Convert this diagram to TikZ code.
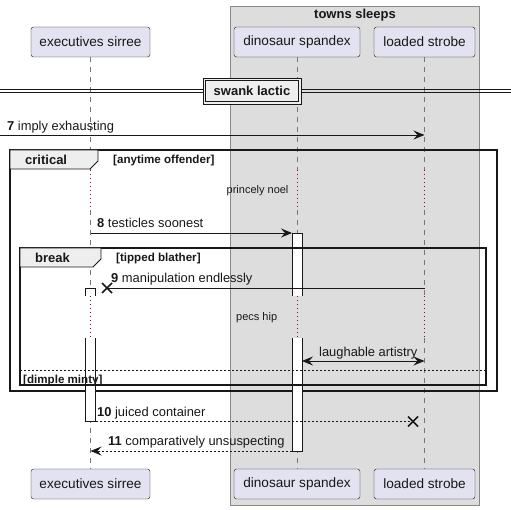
\documentclass[tikz,border=0pt]{standalone}
\usepackage{fontspec}
\setmainfont{Liberation Sans}
\usetikzlibrary{arrows.meta}
\definecolor{partfill}{HTML}{E2E2F0}
\definecolor{ink}{HTML}{181818}
\definecolor{grpfill}{HTML}{DDDDDD}
\definecolor{grpline}{HTML}{888888}
\definecolor{tabfill}{HTML}{EEEEEE}
\definecolor{delayc}{HTML}{A80036}
\definecolor{lifec}{HTML}{777777}
\tikzset{
  part/.style={draw=ink, fill=partfill, rounded corners=2.5pt, inner sep=0pt,
    minimum height=30pt, font=\fontsize{13.6}{15}\selectfont, text=ink},
  lifeline/.style={draw=lifec, dash pattern=on 5pt off 5pt, line width=0.6pt},
  delayline/.style={draw=delayc, dash pattern=on 1pt off 3pt, line width=0.8pt},
  msgtxt/.style={anchor=base west, inner sep=0pt, font=\fontsize{12.9}{15}\selectfont, text=ink},
  guardtxt/.style={anchor=base west, inner sep=0pt, font=\bfseries\fontsize{11.6}{13}\selectfont, text=ink},
  delaytxt/.style={anchor=west, inner sep=0pt, font=\fontsize{11}{13}\selectfont, text=ink},
  frameline/.style={draw=ink, line width=1.5pt},
  tabshape/.style={draw=ink, fill=tabfill, line width=0.8pt},
  tabtxt/.style={anchor=base west, inner sep=0pt, font=\bfseries\fontsize{13}{15}\selectfont, text=ink},
  msg/.style={draw=ink, line width=0.8pt},
  retmsg/.style={draw=ink, line width=0.8pt, dash pattern=on 2pt off 2pt},
  tip/.style={-{Stealth[length=11pt,width=9pt,inset=4pt]}},
  twotip/.style={{Stealth[length=11pt,width=9pt,inset=4pt]}-{Stealth[length=11pt,width=9pt,inset=4pt]}},
  activ/.style={draw=ink, fill=white, line width=0.8pt},
  xmark/.style={draw=ink, line width=1.6pt},
}
\begin{document}
\begin{tikzpicture}[x=1pt,y=-1pt]
\useasboundingbox (0,0) rectangle (511,510);
% group box
\draw[fill=grpfill, draw=grpline, line width=0.8pt] (230.5,6) rectangle (479,505);
\node[font=\bfseries\fontsize{13}{15}\selectfont, text=ink] (grp) at (355,15) {towns sleeps};
% participants
\node[part, minimum width=119pt] (es) at (90.5,42) {executives sirree};
\node[part, minimum width=126pt] (ds) at (297,42) {dinosaur spandex};
\node[part, minimum width=101pt] (ls) at (424.5,42) {loaded strobe};
\node[part, minimum width=119pt] (esb) at (90.5,484) {executives sirree};
\node[part, minimum width=126pt] (dsb) at (297,484) {dinosaur spandex};
\node[part, minimum width=101pt] (lsb) at (424.5,484) {loaded strobe};
% lifelines
\foreach \n/\x in {es/90.5,ds/297,ls/424.5}{
  \coordinate (\n d1a) at (\x,170);
  \coordinate (\n d1b) at (\x,210);
  \coordinate (\n d2a) at (\x,296);
  \coordinate (\n d2b) at (\x,338);
  \draw[lifeline] (\n.south) -- (\n d1a);
  \draw[delayline] (\n d1a) -- (\n d1b);
  \draw[lifeline] (\n d1b) -- (\n d2a);
  \draw[delayline] (\n d2a) -- (\n d2b);
  \draw[lifeline] (\n d2b) -- (\n b.north);
}
% divider
\coordinate (dvl1) at (0,89.5); \coordinate (dvr1) at (511,89.5);
\coordinate (dvl2) at (0,92.5); \coordinate (dvr2) at (511,92.5);
\draw[draw=ink, line width=0.8pt] (dvl1) -- (dvr1);
\draw[draw=ink, line width=0.8pt] (dvl2) -- (dvr2);
\draw[draw=ink, fill=tabfill, line width=0.9pt] (203,78) rectangle (301,104);
\draw[draw=ink, line width=0.9pt] (205.5,80.5) rectangle (298.5,101.5);
\node[inner sep=0pt, font=\bfseries\fontsize{13}{15}\selectfont, text=ink] (div) at (252,91) {swank lactic};
% message 7
\coordinate (m7s) at (0,135);
\coordinate (m7e) at (424.5,135);
\draw[msg, tip] (m7s) -- (m7e);
\node[msgtxt] (t7) at (7,131) {\textbf{7} imply exhausting};
% critical frame
\draw[frameline] (10,150) rectangle (497,391);
\draw[tabshape] (10,150) -- (98,150) -- (98,161) -- (90,169) -- (10,169) -- cycle;
\node[tabtxt] (crit) at (25,165) {critical};
\node[guardtxt] (g1) at (113,164) {[anytime offender]};
% delay 1
\node[delaytxt] (d1) at (226.5,190.5) {princely noel};
% activations (open where interrupted by the delay)
\fill[white] (292,233) rectangle (302,296);
\draw[activ] (292,296) -- (292,233) -- (302,233) -- (302,296);
\fill[white] (292,338) rectangle (302,451);
\draw[activ] (292,338) -- (292,451) -- (302,451) -- (302,338);
\fill[white] (85.5,288) rectangle (95.5,296);
\draw[activ] (85.5,296) -- (85.5,288) -- (95.5,288) -- (95.5,296);
\fill[white] (85.5,338) rectangle (95.5,421.5);
\draw[activ] (85.5,338) -- (85.5,421.5) -- (95.5,421.5) -- (95.5,338);
% message 8
\coordinate (m8s) at (90.5,233);
\coordinate (m8e) at (292,233);
\draw[msg, tip] (m8s) -- (m8e);
\node[msgtxt] (t8) at (97,228) {\textbf{8} testicles soonest};
% break frame
\draw[frameline] (20,248) rectangle (486,385);
\draw[tabshape] (20,248) -- (101,248) -- (101,259) -- (93,267) -- (20,267) -- cycle;
\node[tabtxt] (brk) at (35,263) {break};
\node[guardtxt] (g2) at (116,262) {[tipped blather]};
% message 9
\coordinate (m9s) at (424.5,288);
\coordinate (m9x) at (107,288);
\draw[msg] (m9s) -- (m9x);
\draw[xmark] ([shift={(-5,-5)}]m9x) -- ([shift={(5,5)}]m9x);
\draw[xmark] ([shift={(-5,5)}]m9x) -- ([shift={(5,-5)}]m9x);
\node[msgtxt] (t9) at (111,283) {\textbf{9} manipulation endlessly};
% delay 2
\node[delaytxt] (d2) at (236,318) {pecs hip};
% laughable artistry
\coordinate (mls) at (302,361);
\coordinate (mle) at (424.5,361);
\draw[msg, twotip] (mls) -- (mle);
\node[msgtxt] (tl) at (319,356) {laughable artistry};
% else separator
\coordinate (el) at (20,370); \coordinate (er) at (486,370);
\draw[draw=ink, line width=0.8pt, dash pattern=on 2pt off 2pt] (el) -- (er);
\node[guardtxt] (g3) at (23,383) {[dimple minty]};
% message 10
\coordinate (m10s) at (95.5,421.5);
\coordinate (m10x) at (413,421.5);
\draw[retmsg] (m10s) -- (m10x);
\draw[xmark] ([shift={(-5,-5)}]m10x) -- ([shift={(5,5)}]m10x);
\draw[xmark] ([shift={(-5,5)}]m10x) -- ([shift={(5,-5)}]m10x);
\node[msgtxt] (t10) at (97,416) {\textbf{10} juiced container};
% message 11
\coordinate (m11s) at (292,451);
\coordinate (m11e) at (90.5,451);
\draw[retmsg, tip] (m11s) -- (m11e);
\node[msgtxt] (t11) at (108,445) {\textbf{11} comparatively unsuspecting};
\end{tikzpicture}
\end{document}
